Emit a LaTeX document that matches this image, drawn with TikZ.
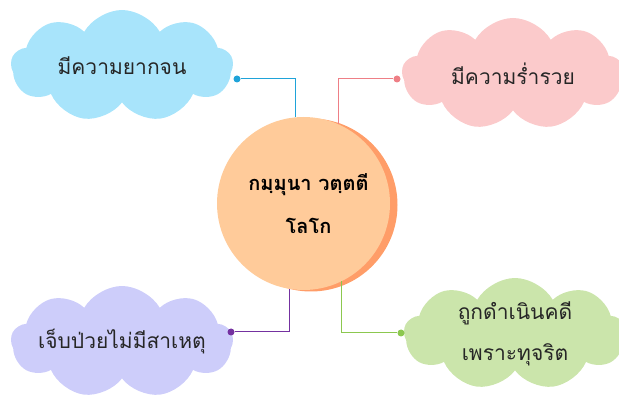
\documentclass[tikz,border=0pt]{standalone}
\usepackage{fontspec}
\setmainfont{Loma}[Script=Thai]
\usetikzlibrary{shapes.symbols}
\definecolor{cloudblue}{HTML}{A8E4FB}
\definecolor{cloudpink}{HTML}{FBCACB}
\definecolor{cloudpurple}{HTML}{CDCDFA}
\definecolor{cloudgreen}{HTML}{CBE5AB}
\definecolor{lineblue}{HTML}{1FA3D9}
\definecolor{linepink}{HTML}{EE7F86}
\definecolor{linepurple}{HTML}{7431A0}
\definecolor{linegreen}{HTML}{8CC84F}
\definecolor{core}{HTML}{FFCB9A}
\definecolor{coreshade}{HTML}{FF9D68}

\begin{document}
\begin{tikzpicture}[
      x=1pt,y=-1pt,
      idea/.style={cloud, cloud puffs=9, cloud puff arc=120, aspect=2,
        minimum width=222pt, minimum height=112pt,
        inner xsep=-50pt, inner ysep=-12pt,
        fill=#1, draw=none, align=center, text=black!85,
        font=\fontsize{21}{41}\selectfont},
      core/.style={circle, fill=core, minimum size=173pt, inner sep=0pt,
        align=center, font=\fontsize{20}{43}\selectfont\bfseries},
      knob/.style={circle, fill=#1, minimum size=7pt, inner sep=0pt},
      link/.style={draw=#1, line width=1pt}
    ]
    \useasboundingbox (0,0) rectangle (619,398);
    % shadow and centre circle
    \fill[coreshade] (311,205) circle (86.5pt);
    \node[core] (circ) at (303.5,203.5) {\hspace*{10pt}กมฺมุนา วตฺตตี\\\hspace*{10pt}โลโก};
    % clouds
    \node[idea=cloudblue] (poor) at (122,66) {มีความยากจน};
    \node[idea=cloudpink] (rich) at (513,74) {มีความร่ำรวย};
    \node[idea=cloudpurple] (sick) at (122,342) {เจ็บป่วยไม่มีสาเหตุ};
    \node[idea=cloudgreen] (sued) at (515,334) {ถูกดำเนินคดี\\เพราะทุจริต};
    % knobs
    \node[knob=lineblue] (kpoor) at (237,79) {};
    \node[knob=linepink] (krich) at (397,79) {};
    \node[knob=linepurple] (ksick) at (231,332) {};
    \node[knob=linegreen] (ksued) at (401,333) {};
    % links
    \draw[link=lineblue] (kpoor) -| (circ.95);
    \draw[link=linepink] (krich) -| (circ.66.5);
    \draw[link=linepurple] (ksick) -| (circ.261);
    \draw[link=linegreen] (ksued) -| (circ.296);
\end{tikzpicture}
\end{document}
